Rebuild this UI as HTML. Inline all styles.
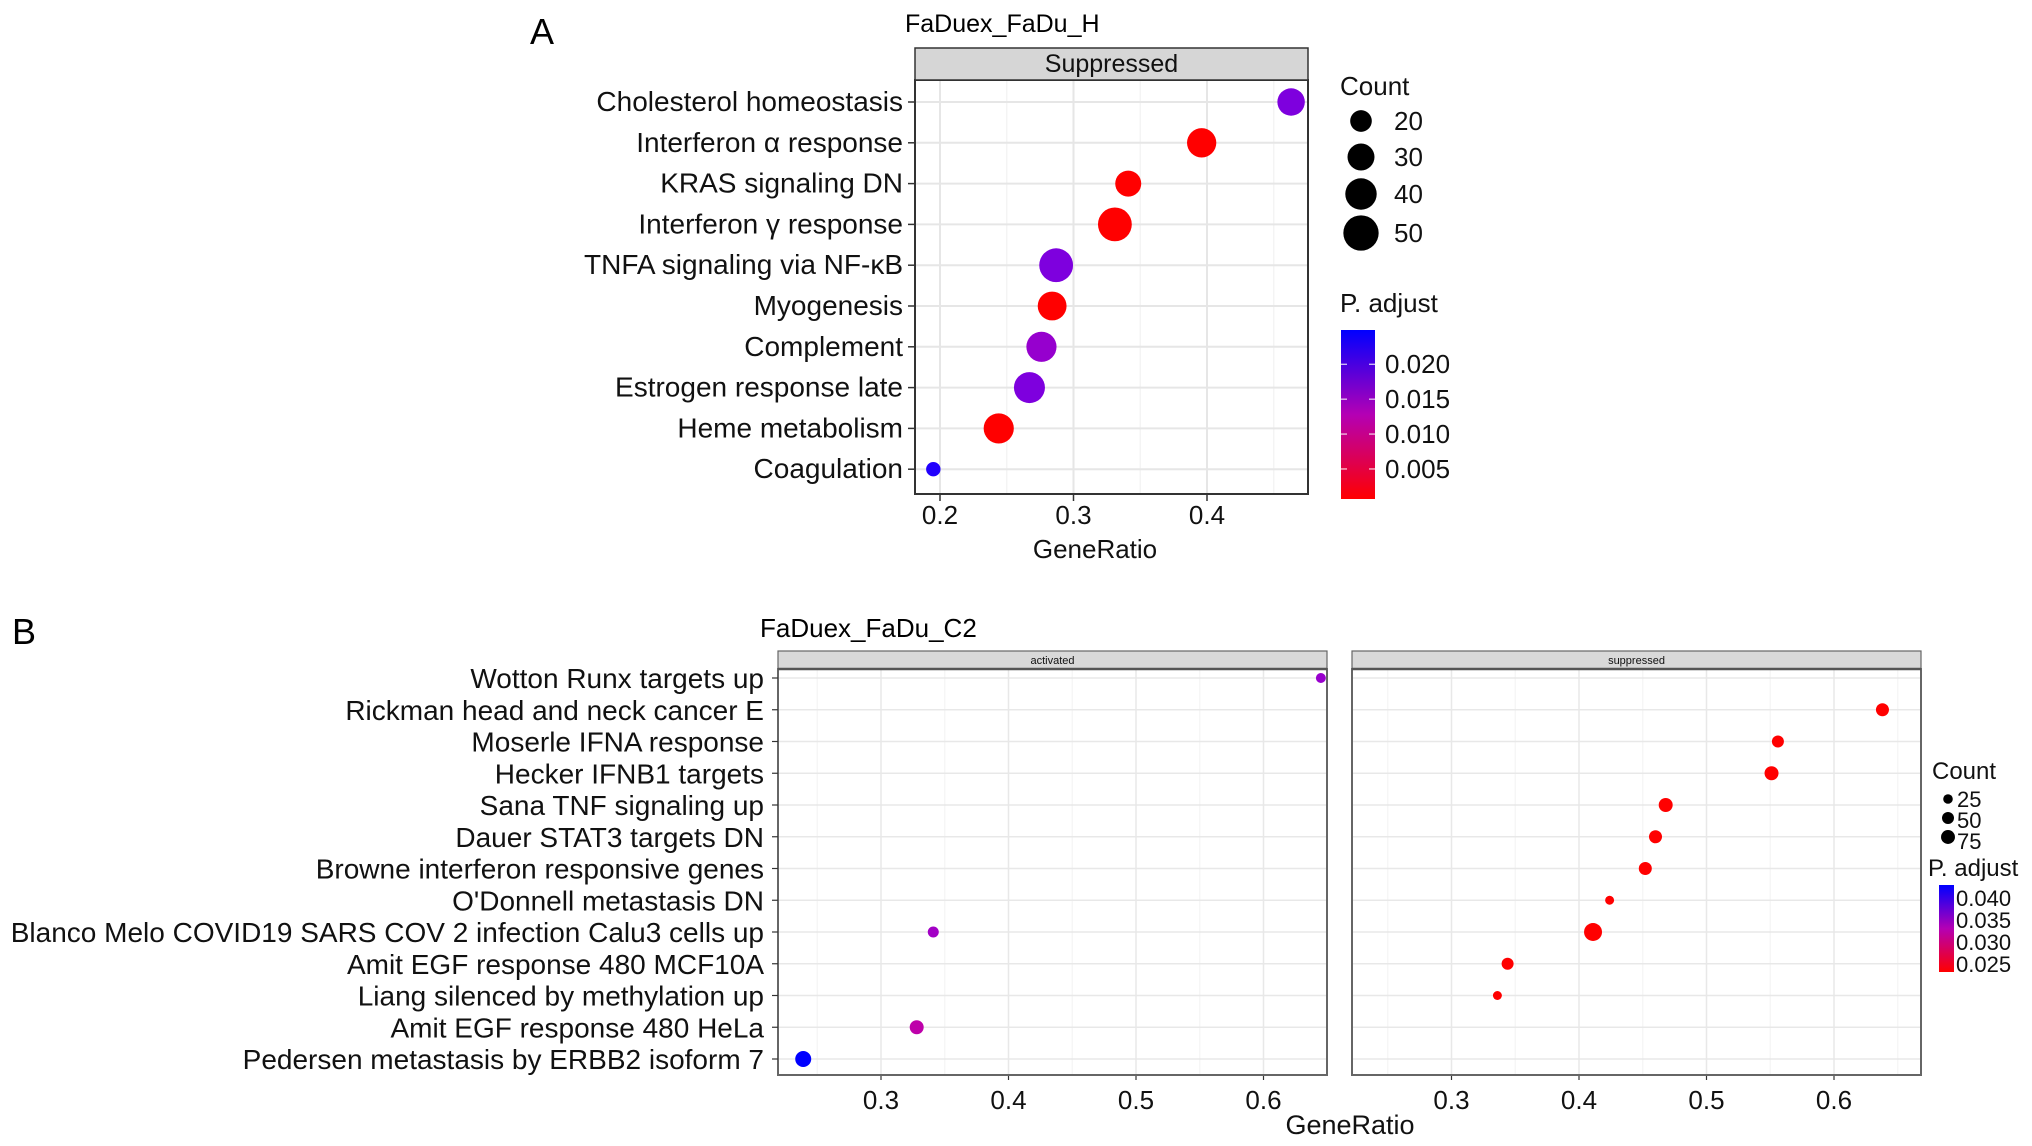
<!DOCTYPE html>
<html><head><meta charset="utf-8"><style>
html,body{margin:0;padding:0;background:#fff;}
svg{display:block;font-family:"Liberation Sans",Arial,sans-serif;}
</style></head><body>
<svg id="chart" width="2032" height="1146" viewBox="0 0 2032 1146" xmlns="http://www.w3.org/2000/svg">
<defs>
<linearGradient id="gA" x1="0" y1="1" x2="0" y2="0"><stop offset="0" stop-color="#ff0000"/><stop offset="0.5" stop-color="#b400b4"/><stop offset="1" stop-color="#0000ff"/></linearGradient>
</defs>
<text x="530" y="44" font-size="36">A</text>
<text x="905" y="32" font-size="25">FaDuex_FaDu_H</text>
<text x="12" y="644" font-size="36">B</text>
<text x="760" y="637" font-size="26">FaDuex_FaDu_C2</text>
<g id="A"></g><g id="B"></g>
</svg>
<script>
// ---- Panel A data ----
const catsA = ["Cholesterol homeostasis","Interferon \u03b1 response","KRAS signaling DN","Interferon \u03b3 response","TNFA signaling via NF-\u03baB","Myogenesis","Complement","Estrogen response late","Heme metabolism","Coagulation"];
const ratioA = [0.463,0.396,0.341,0.331,0.287,0.284,0.276,0.267,0.244,0.195];
const countA = [31,35,28,46,46,34,37,39,37,10];
const padjA = [0.019,0.0007,0.0007,0.0007,0.019,0.0007,0.0165,0.019,0.0007,0.0245];
const ticksA = [0.2,0.3,0.4];
const sizeLegA = [20,30,40,50];
const colTicksA = [0.020,0.015,0.010,0.005];
// ---- Panel B data ----
const catsB = ["Wotton Runx targets up","Rickman head and neck cancer E","Moserle IFNA response","Hecker IFNB1 targets","Sana TNF signaling up","Dauer STAT3 targets DN","Browne interferon responsive genes","O'Donnell metastasis DN","Blanco Melo COVID19 SARS COV 2 infection Calu3 cells up","Amit EGF response 480 MCF10A","Liang silenced by methylation up","Amit EGF response 480 HeLa","Pedersen metastasis by ERBB2 isoform 7"];
const actCats = ["Wotton Runx targets up","Blanco Melo COVID19 SARS COV 2 infection Calu3 cells up","Amit EGF response 480 HeLa","Pedersen metastasis by ERBB2 isoform 7"];
const actRatio = [0.645,0.341,0.328,0.239];
const actCount = [11,18,41,60];
const actPadj = [0.036,0.035,0.032,0.043];
const supCats = ["Rickman head and neck cancer E","Moserle IFNA response","Hecker IFNB1 targets","Sana TNF signaling up","Dauer STAT3 targets DN","Browne interferon responsive genes","O'Donnell metastasis DN","Blanco Melo COVID19 SARS COV 2 infection Calu3 cells up","Amit EGF response 480 MCF10A","Liang silenced by methylation up"];
const supRatio = [0.638,0.556,0.551,0.468,0.460,0.452,0.424,0.411,0.344,0.336];
const supCount = [33,25,41,41,33,33,5,81,25,5];
const supPadj = [0.0232,0.0232,0.0232,0.0232,0.0232,0.0232,0.0232,0.0232,0.0232,0.0232];
const ticksB = [0.3,0.4,0.5,0.6];
const sizeLegB = [25,50,75];
const colTicksB = [0.040,0.035,0.030,0.025];

const NS="http://www.w3.org/2000/svg";
function mk(tag,attrs,parent,txt){const e=document.createElementNS(NS,tag);for(const k in attrs)e.setAttribute(k,attrs[k]);if(txt!==undefined)e.textContent=txt;parent.appendChild(e);return e;}
function col(p,lo,hi){let t=(p-lo)/(hi-lo);t=Math.max(0,Math.min(1,t));const r=Math.round(255*Math.sqrt(1-t)),b=Math.round(255*Math.sqrt(t));return `rgb(${r},0,${b})`;}

// ===== Panel A =====
(function(){
const g=document.getElementById('A');
const L=915,R=1308,T=80,Bt=494;
const x=v=>940+(v-0.2)*1335;
const y=i=>102+i*40.8;
const rA=c=>Math.sqrt(Math.max(4,6.5*c-13));
const pLo=0.0007,pHi=0.0249;
let e=mk('rect',{x:L,y:T,width:R-L,height:Bt-T,fill:'#fff'},g);

for(const m of [0.25,0.35,0.45]) mk('line',{x1:x(m),x2:x(m),y1:T,y2:Bt,stroke:'#f4f4f4','stroke-width':1.5},g);
ticksA.forEach(t=>{mk('line',{x1:x(t),x2:x(t),y1:T,y2:Bt,stroke:'#e6e6e6','stroke-width':2},g);
 mk('line',{x1:x(t),x2:x(t),y1:Bt,y2:Bt+7,stroke:'#333','stroke-width':1.5},g);
 const tx=mk('text',{x:x(t),y:Bt+30,'font-size':26,'text-anchor':'middle',fill:'#111'},g,t.toFixed(1));
 });
catsA.forEach((c,i)=>{mk('line',{x1:L,x2:R,y1:y(i),y2:y(i),stroke:'#e6e6e6','stroke-width':2},g);
 mk('line',{x1:L-7,x2:L,y1:y(i),y2:y(i),stroke:'#333','stroke-width':1.5},g);
 const tx=mk('text',{x:903,y:y(i)+9,'font-size':28,'text-anchor':'end',fill:'#111'},g,c);
 });
e=mk('rect',{x:L,y:T,width:R-L,height:Bt-T,fill:'none',stroke:'#333','stroke-width':2},g);

e=mk('rect',{x:L,y:48,width:R-L,height:T-48,fill:'#d6d6d6',stroke:'#333','stroke-width':1.5},g);

e=mk('text',{x:(L+R)/2,y:72,'font-size':25,'text-anchor':'middle',fill:'#111'},g,'Suppressed');

catsA.forEach((c,i)=>{const d=mk('circle',{cx:x(ratioA[i]),cy:y(i),r:rA(countA[i]),fill:col(padjA[i],pLo,pHi)},g);
 });
e=mk('text',{x:1095,y:558,'font-size':26,'text-anchor':'middle',fill:'#111'},g,'GeneRatio');

// legend
e=mk('text',{x:1340,y:95,'font-size':26,fill:'#111'},g,'Count');

sizeLegA.forEach((s,k)=>{const cy=[121,157,194,233][k];
 const d=mk('circle',{cx:1361,cy:cy,r:rA(s),fill:'#000'},g);
 const t=mk('text',{x:1394,y:cy+9,'font-size':26,fill:'#111'},g,String(s));});
e=mk('text',{x:1340,y:312,'font-size':26,fill:'#111'},g,'P. adjust');

e=mk('rect',{x:1341,y:330,width:34,height:169,fill:'url(#gA)'},g);

const cy=p=>499-(p-pLo)/(pHi-pLo)*169;
colTicksA.forEach(p=>{mk('line',{x1:1341,x2:1347,y1:cy(p),y2:cy(p),stroke:'#fff','stroke-width':1},g);mk('line',{x1:1369,x2:1375,y1:cy(p),y2:cy(p),stroke:'#fff','stroke-width':1},g);
 const t=mk('text',{x:1385,y:cy(p)+9,'font-size':26,fill:'#111'},g,p.toFixed(3));});
})();

// ===== Panel B =====
(function(){
const g=document.getElementById('B');
const T=669,Bt=1075,ST=651;
const panels=[{L:778,R:1327,x0:881,name:'activated',cats:actCats,ratio:actRatio,count:actCount,padj:actPadj},
              {L:1352,R:1921,x0:1451.5,name:'suppressed',cats:supCats,ratio:supRatio,count:supCount,padj:supPadj}];
const y=i=>678+i*31.75;
const rB=c=>Math.sqrt(16+0.8*c);
const pLo=0.0232,pHi=0.043;
panels.forEach(P=>{
 const x=v=>P.x0+(v-0.3)*1275;
 let e=mk('rect',{x:P.L,y:T,width:P.R-P.L,height:Bt-T,fill:'#fff'},g);
 
 for(const m of [0.25,0.35,0.45,0.55,0.65]) if(x(m)>P.L&&x(m)<P.R) mk('line',{x1:x(m),x2:x(m),y1:T,y2:Bt,stroke:'#f4f4f4','stroke-width':1.2},g);
 ticksB.forEach(t=>{mk('line',{x1:x(t),x2:x(t),y1:T,y2:Bt,stroke:'#e8e8e8','stroke-width':1.5},g);
  mk('line',{x1:x(t),x2:x(t),y1:Bt,y2:Bt+5,stroke:'#333','stroke-width':1.2},g);
  const tx=mk('text',{x:x(t),y:Bt+34,'font-size':26,'text-anchor':'middle',fill:'#111'},g,t.toFixed(1));
  });
 catsB.forEach((c,i)=>mk('line',{x1:P.L,x2:P.R,y1:y(i),y2:y(i),stroke:'#e8e8e8','stroke-width':1.5},g));
 e=mk('rect',{x:P.L,y:T,width:P.R-P.L,height:Bt-T,fill:'none',stroke:'#666','stroke-width':2},g);
 
 e=mk('rect',{x:P.L,y:ST,width:P.R-P.L,height:T-ST,fill:'#d9d9d9',stroke:'#666','stroke-width':1.2},g);
 
 mk('line',{x1:P.L,x2:P.R,y1:T,y2:T,stroke:'#555','stroke-width':2.5},g);
 e=mk('text',{x:(P.L+P.R)/2,y:664,'font-size':11,'text-anchor':'middle',fill:'#111'},g,P.name);
 
 P.cats.forEach((c,k)=>{const i=catsB.indexOf(c);
  const d=mk('circle',{cx:x(P.ratio[k]),cy:y(i),r:rB(P.count[k]),fill:col(P.padj[k],pLo,pHi)},g);
  });
});
catsB.forEach((c,i)=>{mk('line',{x1:772,x2:778,y1:y(i),y2:y(i),stroke:'#333','stroke-width':1.2},g);
 const tx=mk('text',{x:764,y:y(i)+10,'font-size':28,'text-anchor':'end',fill:'#111'},g,c);
 });
let e=mk('text',{x:1350,y:1134,'font-size':27,'text-anchor':'middle',fill:'#111'},g,'GeneRatio');

e=mk('text',{x:1932,y:779,'font-size':24,fill:'#111'},g,'Count');

sizeLegB.forEach((s,k)=>{const cy=[799,818,837][k];
 const d=mk('circle',{cx:1948,cy:cy,r:rB(s)*0.8,fill:'#000'},g);
 const t=mk('text',{x:1957,y:cy+8+k*2,'font-size':22,fill:'#111'},g,String(s));});
e=mk('text',{x:1928,y:876,'font-size':24,fill:'#111'},g,'P. adjust');

e=mk('rect',{x:1939,y:885,width:15,height:87,fill:'url(#gA)'},g);

const cy=p=>972-(p-pLo)/(pHi-pLo)*87;
colTicksB.forEach(p=>{const t=mk('text',{x:1956,y:cy(p)+8,'font-size':22,fill:'#111'},g,p.toFixed(3));});
})();
</script>
</body></html>
